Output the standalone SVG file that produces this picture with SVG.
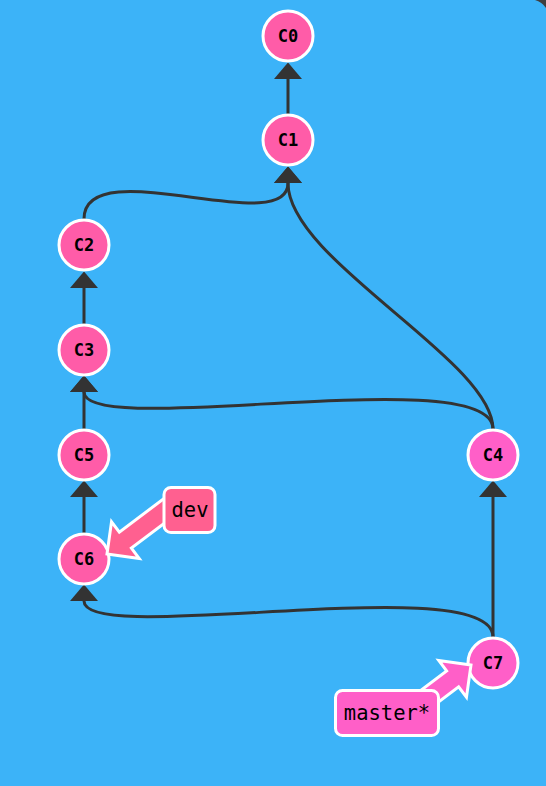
<svg xmlns="http://www.w3.org/2000/svg" width="546" height="786" viewBox="0 0 546 786">
  <style>
    .edge { fill: none; stroke: #333333; stroke-width: 3; }
    .node circle { stroke: #ffffff; stroke-width: 3; }
    .c-a { fill: #ff5ca8; }
    .c-b { fill: #ff5fc8; }
    .node text { font-family: "DejaVu Sans Mono", "Liberation Mono", monospace; font-weight: bold; font-size: 17px; fill: #000000; text-anchor: middle; }
    .label rect, .label polygon { stroke: #ffffff; stroke-width: 3; stroke-linejoin: miter; }
    .label text { font-family: "DejaVu Sans Mono", "Liberation Mono", monospace; font-size: 20.5px; fill: #000000; text-anchor: middle; }
    .dev { fill: #ff6090; }
    .master { fill: #ff5fc8; }
  </style>
  <defs>
    <marker id="head" markerUnits="userSpaceOnUse" markerWidth="17" markerHeight="28" viewBox="0 0 16 27" refX="0" refY="13.5" orient="auto">
      <path d="M0,0 L16,13.5 L0,27 z" fill="#333333"/>
    </marker>
  </defs>
  <rect x="0" y="0" width="546" height="786" fill="#3cb3f8"/>
  <path d="M535,0 Q542,2 546,8 L546,0 z" fill="#3f3f3f"/>

  <g id="connectors">
    <path class="edge" d="M288,115 L288,79" marker-end="url(#head)"/>
    <path class="edge" d="M84,219 C84,150 288,240 288,183" marker-end="url(#head)"/>
    <path class="edge" d="M493,429 C493,360 288,260 288,183" marker-end="url(#head)"/>
    <path class="edge" d="M84,324 L84,288" marker-end="url(#head)"/>
    <path class="edge" d="M84,429 L84,392" marker-end="url(#head)"/>
    <path class="edge" d="M493,429 C493,360 84,440 84,392" marker-end="url(#head)"/>
    <path class="edge" d="M84,533 L84,497" marker-end="url(#head)"/>
    <path class="edge" d="M493,637 L493,497" marker-end="url(#head)"/>
    <path class="edge" d="M493,637 C493,568 84,648 84,601" marker-end="url(#head)"/>
  </g>

  <g id="C0" class="node"><circle class="c-a" cx="288" cy="36" r="25"/><text x="288" y="42">C0</text></g>
  <g id="C1" class="node"><circle class="c-a" cx="288" cy="140" r="25"/><text x="288" y="146">C1</text></g>
  <g id="C2" class="node"><circle class="c-a" cx="84" cy="245" r="25"/><text x="84" y="251">C2</text></g>
  <g id="C3" class="node"><circle class="c-a" cx="84" cy="350" r="25"/><text x="84" y="356">C3</text></g>
  <g id="C5" class="node"><circle class="c-a" cx="84" cy="455" r="25"/><text x="84" y="461">C5</text></g>
  <g id="C6" class="node"><circle class="c-a" cx="84" cy="559" r="25"/><text x="84" y="565">C6</text></g>
  <g id="C4" class="node"><circle class="c-b" cx="493" cy="455" r="25"/><text x="493" y="461">C4</text></g>
  <g id="C7" class="node"><circle class="c-b" cx="493" cy="663" r="25"/><text x="493" y="669">C7</text></g>

  <g id="dev" class="label">
    <polygon class="dev" transform="translate(107,554) rotate(143)" points="0,0 -23,-23 -23,-10 -95,-10 -95,10 -23,10 -23,23"/>
    <rect class="dev" x="164" y="487.5" width="51" height="45" rx="7"/>
    <text x="190" y="517">dev</text>
  </g>
  <g id="master" class="label">
    <polygon class="master" transform="translate(471,665) rotate(-37)" points="0,0 -23,-23 -23,-10 -95,-10 -95,10 -23,10 -23,23"/>
    <rect class="master" x="335.5" y="690.5" width="103" height="45" rx="7"/>
    <text x="387" y="720">master*</text>
  </g>
</svg>
